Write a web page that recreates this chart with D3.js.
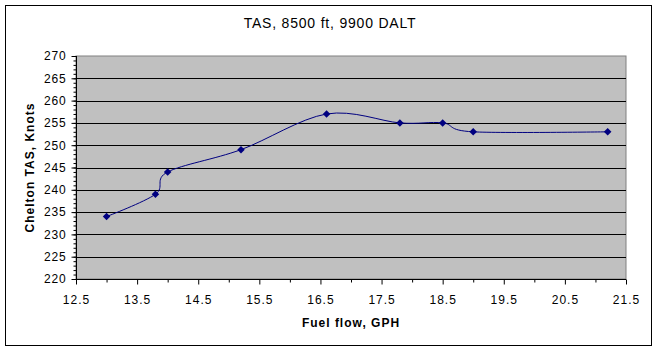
<!DOCTYPE html>
<html>
<head>
<meta charset="utf-8">
<script src="https://cdn.jsdelivr.net/npm/d3@7"></script>
<style>
  body { margin: 0; background: #fff; }
  text { font-family: "Liberation Sans", Arial, sans-serif; }
</style>
</head>
<body>
<svg id="chart" width="658" height="352"></svg>
<script>
// fuel flow (GPH) and true airspeed (knots)
var fuelFlow = [13.0, 13.8, 14.0, 15.2, 16.6, 17.8, 18.5, 19.0, 21.2];
var tas = [234, 239, 244, 249, 257, 255, 255, 253, 253];

var xTicks = [12.5, 13.5, 14.5, 15.5, 16.5, 17.5, 18.5, 19.5, 20.5, 21.5];
var yTicks = [220, 225, 230, 235, 240, 245, 250, 255, 260, 265, 270];

var titre = "TAS, 8500 ft, 9900 DALT";
var titreX = "Fuel flow, GPH";
var titreY = "Chelton TAS, Knots";

var svg = d3.select("#chart");

// cadre exterieur
svg.append("rect")
  .attr("x", 5.5).attr("y", 5.5)
  .attr("width", 646).attr("height", 340)
  .attr("fill", "#fff").attr("stroke", "#000").attr("stroke-width", 1);

var pLeft = 76, pRight = 626, pTop = 56, pBottom = 279;

var x = d3.scaleLinear().domain([12.5, 21.5]).range([pLeft, pRight]);
var y = d3.scaleLinear().domain([220, 270]).range([pBottom, pTop]);

// zone du graphique
svg.append("rect")
  .attr("x", pLeft).attr("y", pTop)
  .attr("width", pRight - pLeft).attr("height", pBottom - pTop)
  .attr("fill", "#c0c0c0").attr("stroke", "#808080").attr("stroke-width", 1);

// lignes de grille
svg.append("g").selectAll("line")
  .data(yTicks.slice(1, -1))
  .enter().append("line")
  .attr("x1", pLeft).attr("x2", pRight)
  .attr("y1", function (d) { return Math.round(y(d)) + 0.5; })
  .attr("y2", function (d) { return Math.round(y(d)) + 0.5; })
  .attr("stroke", "#000").attr("stroke-width", 1);

// axe Y
var yMinor = d3.range(220, 271, 1);
var gy = svg.append("g").attr("transform", "translate(" + (pLeft + 0.5) + ",0)");
gy.append("g").call(d3.axisLeft(y).tickValues(yMinor).tickSize(3).tickFormat(""))
  .call(function (g) { g.select(".domain").remove(); });
gy.append("g").call(d3.axisLeft(y).tickValues(yTicks).tickSize(5).tickPadding(5).tickFormat(d3.format("d")))
  .call(function (g) {
    g.select(".domain").attr("d", "M0," + pTop + "V" + pBottom);
    g.selectAll("text").attr("font-size", 12).attr("letter-spacing", 0.8)
      .attr("font-family", "Liberation Sans, Arial, sans-serif").attr("fill", "#000");
  });

// axe X
var xMinor = d3.range(13, 21.5, 1);
var gx = svg.append("g").attr("transform", "translate(0," + (pBottom + 0.5) + ")");
gx.append("g").call(d3.axisBottom(x).tickValues(xMinor).tickSize(3).tickFormat(""))
  .call(function (g) { g.select(".domain").remove(); });
gx.append("g").call(d3.axisBottom(x).tickValues(xTicks).tickSize(5).tickPadding(11).tickFormat(d3.format(".1f")))
  .call(function (g) {
    g.select(".domain").attr("d", "M" + pLeft + ",0H" + pRight);
    g.selectAll("text").attr("font-size", 12).attr("letter-spacing", 1)
      .attr("font-family", "Liberation Sans, Arial, sans-serif").attr("fill", "#000");
  });

// courbe lissee
var points = fuelFlow.map(function (f, i) { return [f, tas[i]]; });
var ligne = d3.line()
  .x(function (d) { return x(d[0]); })
  .y(function (d) { return y(d[1]); })
  .curve(d3.curveCardinal.tension(0));

svg.append("path")
  .datum(points)
  .attr("d", ligne)
  .attr("fill", "none")
  .attr("stroke", "#000080")
  .attr("stroke-width", 1);

// marqueurs en losange
svg.append("g").selectAll("path")
  .data(points)
  .enter().append("path")
  .attr("d", d3.symbol().type(d3.symbolDiamond2).size(36))
  .attr("transform", function (d) { return "translate(" + x(d[0]) + "," + y(d[1]) + ")"; })
  .attr("fill", "#000080");

// titres
svg.append("text")
  .attr("x", 330).attr("y", 28)
  .attr("text-anchor", "middle")
  .attr("font-size", 14).attr("letter-spacing", 0.8)
  .text(titre);

svg.append("text")
  .attr("x", (pLeft + pRight) / 2).attr("y", 327)
  .attr("text-anchor", "middle")
  .attr("font-size", 12).attr("font-weight", "bold").attr("letter-spacing", 1)
  .text(titreX);

svg.append("text")
  .attr("transform", "translate(34," + ((pTop + pBottom) / 2) + ") rotate(-90)")
  .attr("text-anchor", "middle")
  .attr("font-size", 12).attr("font-weight", "bold").attr("letter-spacing", 1)
  .text(titreY);
</script>
</body>
</html>
